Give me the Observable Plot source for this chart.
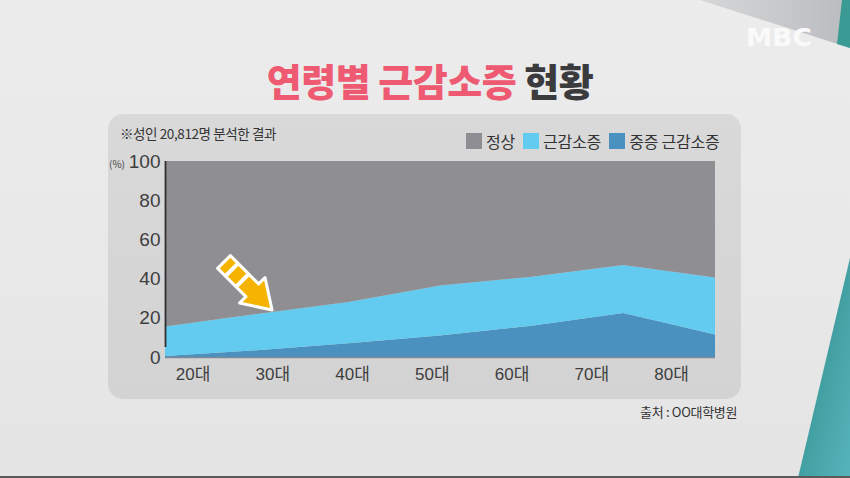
<!DOCTYPE html>
<html>
<head>
<meta charset="utf-8">
<script src="https://cdn.jsdelivr.net/npm/d3@7"></script>
<script src="https://cdn.jsdelivr.net/npm/@observablehq/plot@0.6"></script>
<style>
  html, body { margin: 0; padding: 0; }
  body { width: 850px; height: 478px; position: relative; overflow: hidden;
         background: linear-gradient(180deg, #ececec 0%, #e8e8e8 60%, #e4e4e4 100%);
         font-family: "Noto Sans CJK KR", "Noto Sans", sans-serif; }
  .abs { position: absolute; }
  #title { left: 0; width: 860px; top: 55px; text-align: center; font-size: 38px; font-weight: 900; letter-spacing: -0.5px; line-height: 50px; }
  #title .pink { color: #ee5a72; }
  #title .dark { color: #3b3b3d; }
  #panel { left: 108px; top: 114px; width: 633px; height: 285px; border-radius: 15px;
           background: linear-gradient(180deg, #d9d9d9, #d3d3d3); }
  #note { left: 120px; top: 123px; font-size: 13.5px; color: #333; letter-spacing: -0.4px; }
  #legend { left: 466px; top: 129px; font-size: 16px; color: #333; display: flex; align-items: center; letter-spacing: -0.2px; }
  #legend .sw { width: 16px; height: 16px; display: inline-block; margin-right: 4px; }
  #legend .it { display: flex; align-items: center; margin-right: 8px; }
  #pct { left: 109px; top: 156px; font-size: 10px; color: #444; }
  #chart { left: 108px; top: 140px; }
  #source { left: 640px; top: 402px; font-size: 13px; color: #333; letter-spacing: -0.3px; }
  #logo { left: 746px; top: 24px; font-family: "DejaVu Sans", sans-serif; font-weight: 700; font-size: 24px; color: #fafafa; letter-spacing: 0px; transform: scaleX(1.1); transform-origin: left; }
</style>
</head>
<body>
<svg class="abs" style="left:0;top:0" width="850" height="478">
  <defs>
    <linearGradient id="tg" x1="0" y1="0" x2="1" y2="1">
      <stop offset="0" stop-color="#2e8a86"/>
      <stop offset="1" stop-color="#56b4bc"/>
    </linearGradient>
    <linearGradient id="gg" x1="0" y1="0" x2="1" y2="0">
      <stop offset="0" stop-color="#d6d7d8"/>
      <stop offset="1" stop-color="#b9bcbf"/>
    </linearGradient>
  </defs>
  <polygon points="700,0 850,0 850,48" fill="url(#gg)"/>
  <polygon points="842,0 850,0 850,48 837,44" fill="#3a9a94"/>
  <polygon points="850,258 850,478 798,478" fill="url(#tg)"/>
  <rect x="0" y="476" width="850" height="2" fill="#5a5a5a"/>
</svg>
<div id="logo" class="abs">MBC</div>
<div id="title" class="abs"><span class="pink">연령별 근감소증</span> <span class="dark">현황</span></div>
<div id="panel" class="abs"></div>
<div id="note" class="abs">※성인 20,812명 분석한 결과</div>
<div id="legend" class="abs"></div>
<div id="pct" class="abs">(%)</div>
<div id="chart" class="abs"></div>
<div id="source" class="abs">출처 : OO대학병원</div>
<svg class="abs" style="left:0;top:0;pointer-events:none" width="850" height="478">
  <g transform="translate(224,262) rotate(45)" stroke="#ffffff" stroke-width="3" stroke-linejoin="round">
    <path d="M0,-9 L40,-9 L40,-18 L68,0 L40,18 L40,9 L0,9 Z" fill="#f6b400"/>
    <rect x="9" y="-8" width="4" height="16" fill="#ffffff" stroke="none"/>
    <rect x="24" y="-8" width="4" height="16" fill="#ffffff" stroke="none"/>
  </g>
</svg>
<script>
// ---- data ----
const ages = ["20대", "30대", "40대", "50대", "60대", "70대", "80대"];
const series = ["정상", "근감소증", "중증 근감소증"];
const colors = ["#8f8e92", "#62cbef", "#4a91c0"];
const severe = [0.5, 3.5, 7, 11, 16, 22.5, 11.5];
const mild = [15, 18.5, 21, 25.5, 25, 24.5, 29];
const normal = [84.5, 78, 72, 63.5, 59, 53, 59.5];
const yTicks = [0, 20, 40, 60, 80, 100];

// legend
const lg = document.getElementById("legend");
series.forEach((s, k) => {
  const it = document.createElement("span");
  it.className = "it";
  it.innerHTML = `<span class="sw" style="background:${colors[k]}"></span>${s}`;
  lg.appendChild(it);
});

const rows = [];
ages.forEach((a, i) => {
  rows.push({i, s: "중증 근감소증", v: severe[i]});
  rows.push({i, s: "근감소증", v: mild[i]});
  rows.push({i, s: "정상", v: normal[i]});
});

const labelPos = ages.map((a, i) => 0.3 + i * 0.87);

const chart = Plot.plot({
  width: 633,
  height: 260,
  marginLeft: 57,
  marginRight: 26,
  marginTop: 21,
  marginBottom: 43,
  style: {fontFamily: "'Liberation Sans', 'Noto Sans CJK KR', sans-serif", background: "transparent", overflow: "visible"},
  x: {type: "linear", domain: [0, ages.length - 1], axis: null},
  y: {domain: [0, 100], axis: null},
  color: {domain: series, range: colors},
  marks: [
    Plot.areaY(rows, {x: "i", y: "v", fill: "s", order: ["중증 근감소증", "근감소증", "정상"], curve: "linear"}),
    Plot.ruleY([0], {stroke: "#7d8a96", strokeWidth: 1.5}),
    Plot.ruleX([0], {y1: 0, y2: 100, insetTop: -10, stroke: "#2f2f2f", strokeWidth: 1.8}),
    Plot.axisY(yTicks, {anchor: "left", label: null, tickSize: 0, tickPadding: 5, fontSize: 19, fill: "#3e3e3e", tickFormat: d => d}),
    Plot.axisX(labelPos, {anchor: "bottom", label: null, tickSize: 0, tickPadding: 10, fontSize: 17, fill: "#3e3e3e",
      tickFormat: (d) => ages[labelPos.indexOf(d)]})
  ]
});
document.getElementById("chart").appendChild(chart);
</script>
</body>
</html>
